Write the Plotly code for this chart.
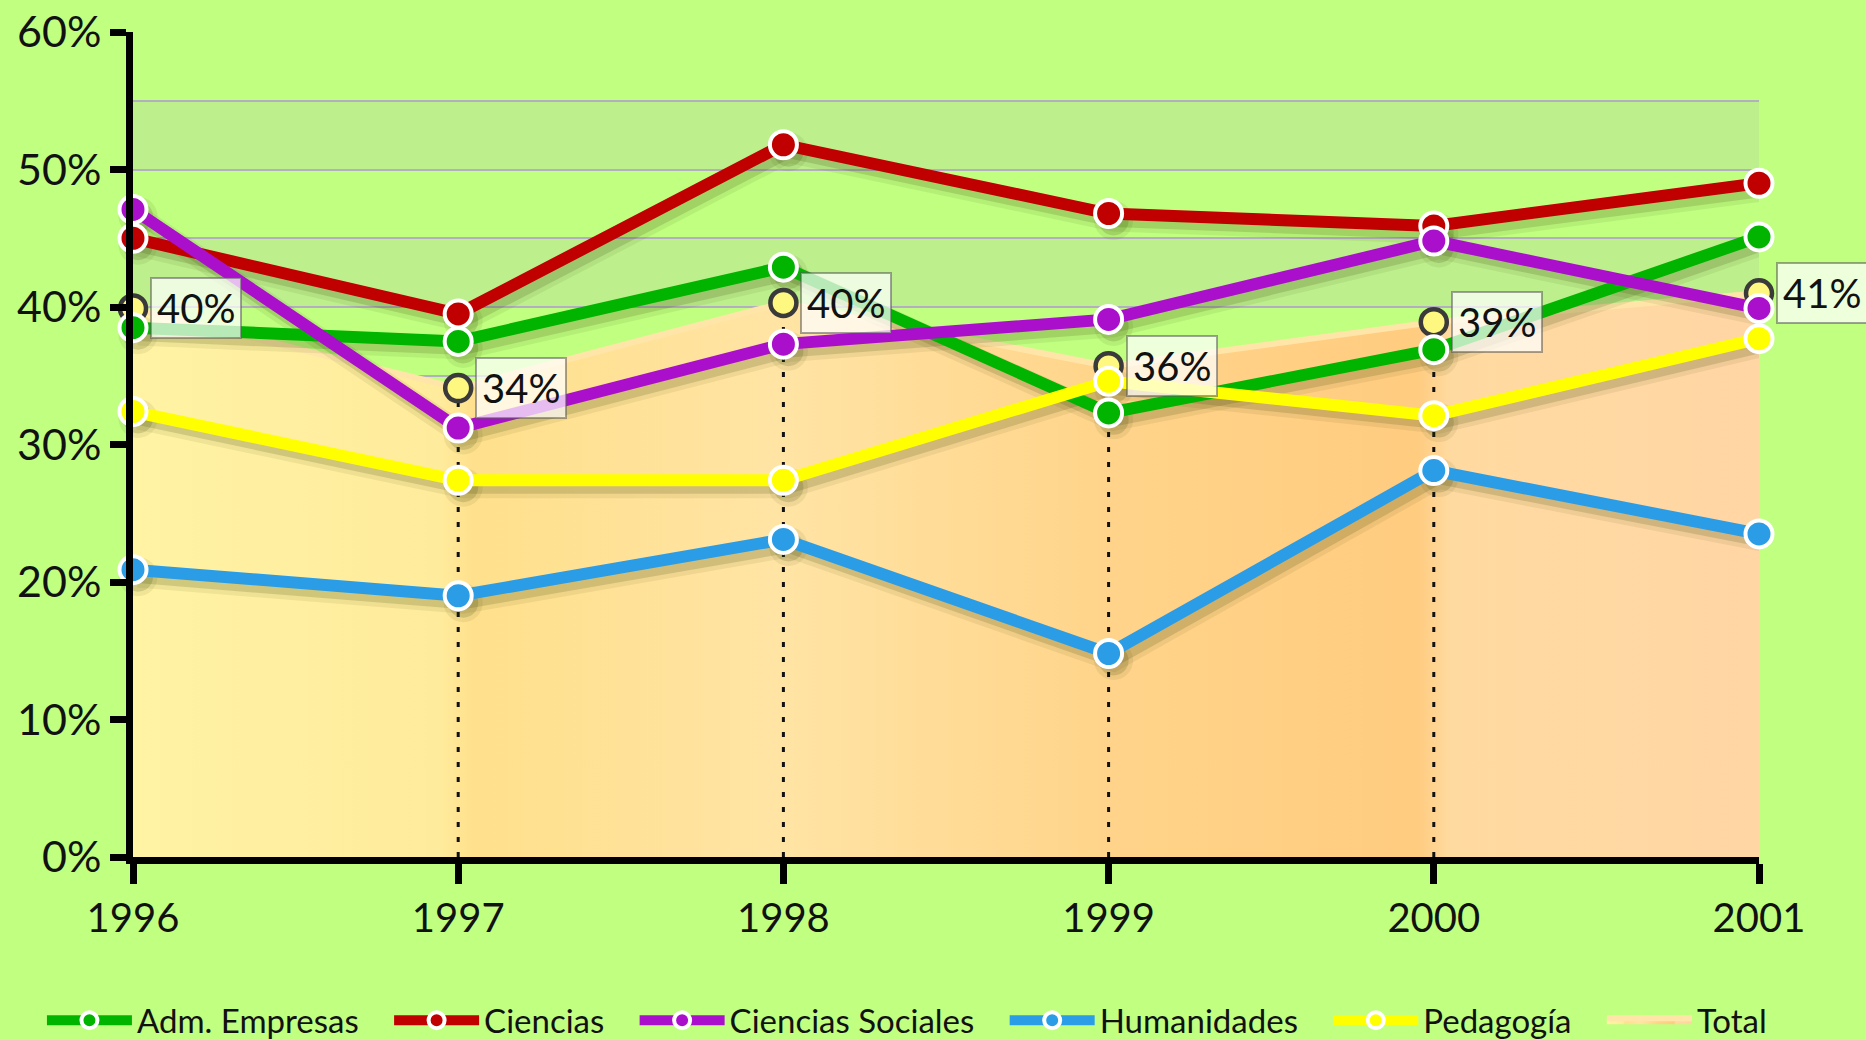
import plotly.graph_objects as go

years = [1996, 1997, 1998, 1999, 2000, 2001]

adm_empresas = [0.385, 0.375, 0.429, 0.323, 0.369, 0.451]
ciencias = [0.450, 0.395, 0.518, 0.468, 0.459, 0.490]
ciencias_sociales = [0.471, 0.312, 0.373, 0.391, 0.448, 0.399]
humanidades = [0.209, 0.190, 0.231, 0.148, 0.281, 0.235]
pedagogia = [0.324, 0.274, 0.274, 0.346, 0.321, 0.377]
total = [0.399, 0.341, 0.403, 0.357, 0.389, 0.410]
total_labels = ["40%", "34%", "40%", "36%", "39%", "41%"]

series = [
    ("Adm. Empresas", adm_empresas, "#00b400"),
    ("Ciencias", ciencias, "#c00000"),
    ("Ciencias Sociales", ciencias_sociales, "#aa10cc"),
    ("Humanidades", humanidades, "#2a9de6"),
    ("Pedagogía", pedagogia, "#ffff00"),
]

FONT = "Lato, Open Sans, sans-serif"
BG = "#c0ff80"
BAND = "#bdef8c"
GRID = "#b3aec0"
PAD = "\u00a0" * 3  # extra room between legend entries

W, H = 1866, 1040
M = dict(l=133, r=107, t=32, b=183)
x_range = [years[0], years[-1]]
y_range = [0, 0.6]
# shadow offset (pixels -> data units)
px_x = (x_range[1] - x_range[0]) / (W - M["l"] - M["r"])
px_y = (y_range[1] - y_range[0]) / (H - M["t"] - M["b"])
sx, sy = 5, 7

fig = go.Figure()

# total as a gradient area
fig.add_trace(go.Scatter(
    x=years, y=total, name="Total", mode="lines",
    line=dict(color="#ffe6a8", width=6),
    fill="tozeroy",
    fillgradient=dict(
        type="horizontal",
        colorscale=[
            [0.0, "#fff3a4"], [0.19, "#ffeb9c"], [0.21, "#ffe08c"],
            [0.4, "#ffe4a4"], [0.6, "#ffd48a"], [0.79, "#ffcc80"],
            [0.81, "#ffdaa0"], [1.0, "#ffd6a4"],
        ],
    ),
    cliponaxis=False, legendrank=6,
))

# dotted drop lines down from the total markers
drop_x, drop_y = [], []
for yr, t in zip(years[1:-1], total[1:-1]):
    drop_x += [yr, yr, None]
    drop_y += [0, t, None]
fig.add_trace(go.Scatter(
    x=drop_x, y=drop_y, mode="lines", showlegend=False, hoverinfo="skip",
    line=dict(color="#111111", width=3, dash="5px,10px"),
))

# soft drop shadows, drawn on a slightly shifted overlay axis pair
for width, alpha in [(22, 0.08), (13, 0.16)]:
    for name, vals, color in series:
        fig.add_trace(go.Scatter(
            x=years, y=vals, mode="lines+markers", showlegend=False,
            hoverinfo="skip", xaxis="x2", yaxis="y2", cliponaxis=False,
            line=dict(color=f"rgba(50,60,0,{alpha})", width=width),
            marker=dict(size=width + 17, color=f"rgba(50,60,0,{alpha})"),
        ))

fig.add_trace(go.Scatter(
    x=years, y=total, mode="markers", showlegend=False, cliponaxis=False,
    xaxis="x3", yaxis="y3",
    marker=dict(size=26, color="#fff880", line=dict(color="#3a3a3a", width=4.5)),
))

for i, (name, vals, color) in enumerate(series):
    fig.add_trace(go.Scatter(
        x=years, y=vals, name=name + PAD, mode="lines+markers",
        xaxis="x3", yaxis="y3",
        line=dict(color=color, width=12),
        marker=dict(size=27, color=color, line=dict(color="white", width=4)),
        cliponaxis=False, legendrank=i + 1,
    ))

for yr, t, lab in zip(years, total, total_labels):
    fig.add_annotation(
        x=yr, y=t, text=lab, showarrow=False, xanchor="left", yanchor="middle",
        xshift=17, font=dict(family=FONT, size=40, color="#111111"),
        bgcolor="rgba(255,255,255,0.72)", bordercolor="rgba(90,90,90,0.55)",
        borderwidth=2, borderpad=5,
    )

# alternating pale bands behind the grid
for lo, hi in [(0.40, 0.45), (0.50, 0.55)]:
    fig.add_shape(type="rect", xref="x", yref="y", x0=years[0], x1=years[-1],
                  y0=lo, y1=hi, fillcolor=BAND, line_width=0, layer="below")

hidden = dict(visible=False, fixedrange=True)
fig.update_layout(
    width=W, height=H,
    paper_bgcolor=BG, plot_bgcolor=BG,
    margin=dict(**M, autoexpand=False),
    font=dict(family=FONT, color="#111111"),
    showlegend=True,
    legend=dict(
        orientation="h", x=-0.056, xanchor="left", y=-0.198, yanchor="middle",
        font=dict(family=FONT, size=33, color="#111111"),
        bgcolor="rgba(0,0,0,0)", itemwidth=85,
    ),
    xaxis=dict(
        range=x_range, tickmode="array", tickvals=years,
        ticktext=[str(y) for y in years],
        showgrid=False, zeroline=False,
        showline=True, linecolor="black", linewidth=7,
        ticks="outside", ticklen=20, tickwidth=7, tickcolor="black",
        tickfont=dict(family=FONT, size=40, color="#111111"),
    ),
    yaxis=dict(
        range=y_range, tickmode="linear", tick0=0, dtick=0.1, tickformat=".0%",
        showgrid=True, gridcolor=GRID, gridwidth=2, zeroline=False,
        minor=dict(dtick=0.05, showgrid=True, gridcolor=GRID, gridwidth=2),
        showline=True, linecolor="black", linewidth=7,
        ticks="outside", ticklen=16, tickwidth=7, tickcolor="black",
        tickfont=dict(family=FONT, size=43, color="#111111"),
    ),
    xaxis2=dict(overlaying="x", range=[x_range[0] - sx * px_x, x_range[1] - sx * px_x], **hidden),
    yaxis2=dict(overlaying="y", range=[y_range[0] + sy * px_y, y_range[1] + sy * px_y], **hidden),
    xaxis3=dict(overlaying="x", range=x_range, **hidden),
    yaxis3=dict(overlaying="y", range=y_range, **hidden),
)

fig.write_html(
    "out.html",
    config={"displayModeBar": False},
    post_script="document.body.style.margin='0';document.body.style.padding='0';",
)
